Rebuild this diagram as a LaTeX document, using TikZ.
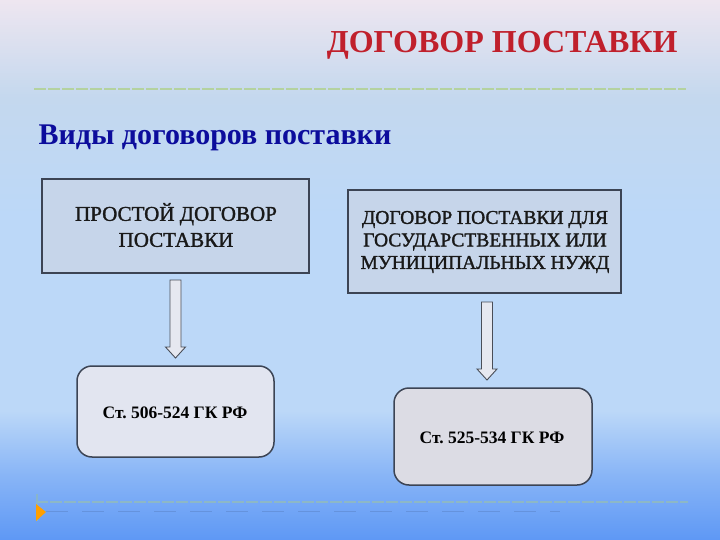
\documentclass[tikz,border=0pt]{standalone}
\usepackage{fontspec}
\setmainfont{Liberation Serif}
\newfontfamily\boxfont[FakeBold=1.5]{Liberation Serif}
\frenchspacing
\definecolor{bgtop}{HTML}{EEE6F0}
\definecolor{bgmid}{HTML}{C4D8EE}
\definecolor{bglow}{HTML}{BCD8F8}
\definecolor{bgbot}{HTML}{5E98F5}
\definecolor{titlered}{HTML}{C0202C}
\definecolor{subblue}{HTML}{0C0C9C}
\definecolor{boxfill}{HTML}{C6D5EA}
\definecolor{boxline}{HTML}{3C4454}
\definecolor{rfillA}{HTML}{E2E5F0}
\definecolor{rfillB}{HTML}{DCDCE4}
\definecolor{linegreen}{HTML}{B4D2A0}
\definecolor{arrowfill}{HTML}{E6E8F0}
\definecolor{arrowline}{HTML}{4A4E58}
\pgfdeclareverticalshading{slidebg}{100bp}{
  color(0bp)=(bgbot);
  color(25bp)=(bgbot);
  color(31bp)=(bgbot!55!bglow);
  color(37bp)=(bglow);
  color(55bp)=(bglow);
  color(66bp)=(bgmid);
  color(75bp)=(bgtop);
  color(100bp)=(bgtop)}
\tikzset{
  sqbox/.style={draw=boxline, line width=1.8pt, fill=boxfill},
  rbox/.style={draw=boxline, line width=1.5pt, rounded corners=15pt},
  boxtext/.style={font=\boxfont\fontsize{21}{26}\selectfont, text=black!90, align=center},
  reftext/.style={font=\bfseries\fontsize{17.5}{20}\selectfont, text=black},
  blockarrow/.style={draw=arrowline, fill=arrowfill, line width=0.9pt, line join=miter},
  sepline/.style={draw=linegreen, line width=2pt, dash pattern=on 12pt off 2pt}
}
\begin{document}
\begin{tikzpicture}[x=1pt,y=-1pt]
\useasboundingbox (0,0) rectangle (720,540);
\shade[shading=slidebg] (0,0) rectangle (720,540);
% separator lines
\draw[sepline] (34,89) -- (686,89);
\draw[sepline, draw=linegreen!55!bgbot] (36,502) -- (688,502);
\draw[draw=bgbot!80!gray, line width=0.6pt, dash pattern=on 22pt off 14pt] (46,511) -- (560,511);
\draw[draw=linegreen!50!bgbot, line width=1.5pt] (37,494) -- (37,521);
\fill[orange!75!yellow] (36,504) -- (46,512) -- (36,521) -- cycle;
% titles
\node[anchor=east, text=titlered, font=\bfseries\fontsize{32}{36}\selectfont] (title) at (681,45) {ДОГОВОР ПОСТАВКИ};
\node[anchor=west, text=subblue, font=\bfseries\fontsize{30}{34}\selectfont] (sub) at (35,138) {Виды договоров поставки};
% boxes
\draw[sqbox] (42,179) rectangle (309,273);
\node[boxtext] (b1) at (176,225) {ПРОСТОЙ ДОГОВОР\\ПОСТАВКИ};
\draw[sqbox] (348,190) rectangle (621,293);
\node[boxtext, font=\boxfont\fontsize{19.5}{22.5}\selectfont] (b2) at (485,242) {ДОГОВОР ПОСТАВКИ ДЛЯ\\ГОСУДАРСТВЕННЫХ ИЛИ\\МУНИЦИПАЛЬНЫХ НУЖД};
\coordinate (b1s) at (175.5,280);
\coordinate (b2s) at (487,302);
% arrows
\draw[blockarrow] (b1s) ++(-5.5,0) -- ++(0,67) -- ++(-4.5,0) -- ++(10,11) -- ++(10,-11) -- ++(-4.5,0) -- ++(0,-67) -- cycle;
\draw[blockarrow] (b2s) ++(-5.5,0) -- ++(0,67) -- ++(-4.5,0) -- ++(10,11) -- ++(10,-11) -- ++(-4.5,0) -- ++(0,-67) -- cycle;
% rounded boxes
\draw[rbox, fill=rfillA] (77,366) rectangle (274,457);
\node[reftext] (r1) at (175,413) {Ст. 506-524 ГК РФ};
\draw[rbox, fill=rfillB] (394,388) rectangle (592,485);
\node[reftext] (r2) at (492,438) {Ст. 525-534 ГК РФ};
\end{tikzpicture}
\end{document}
